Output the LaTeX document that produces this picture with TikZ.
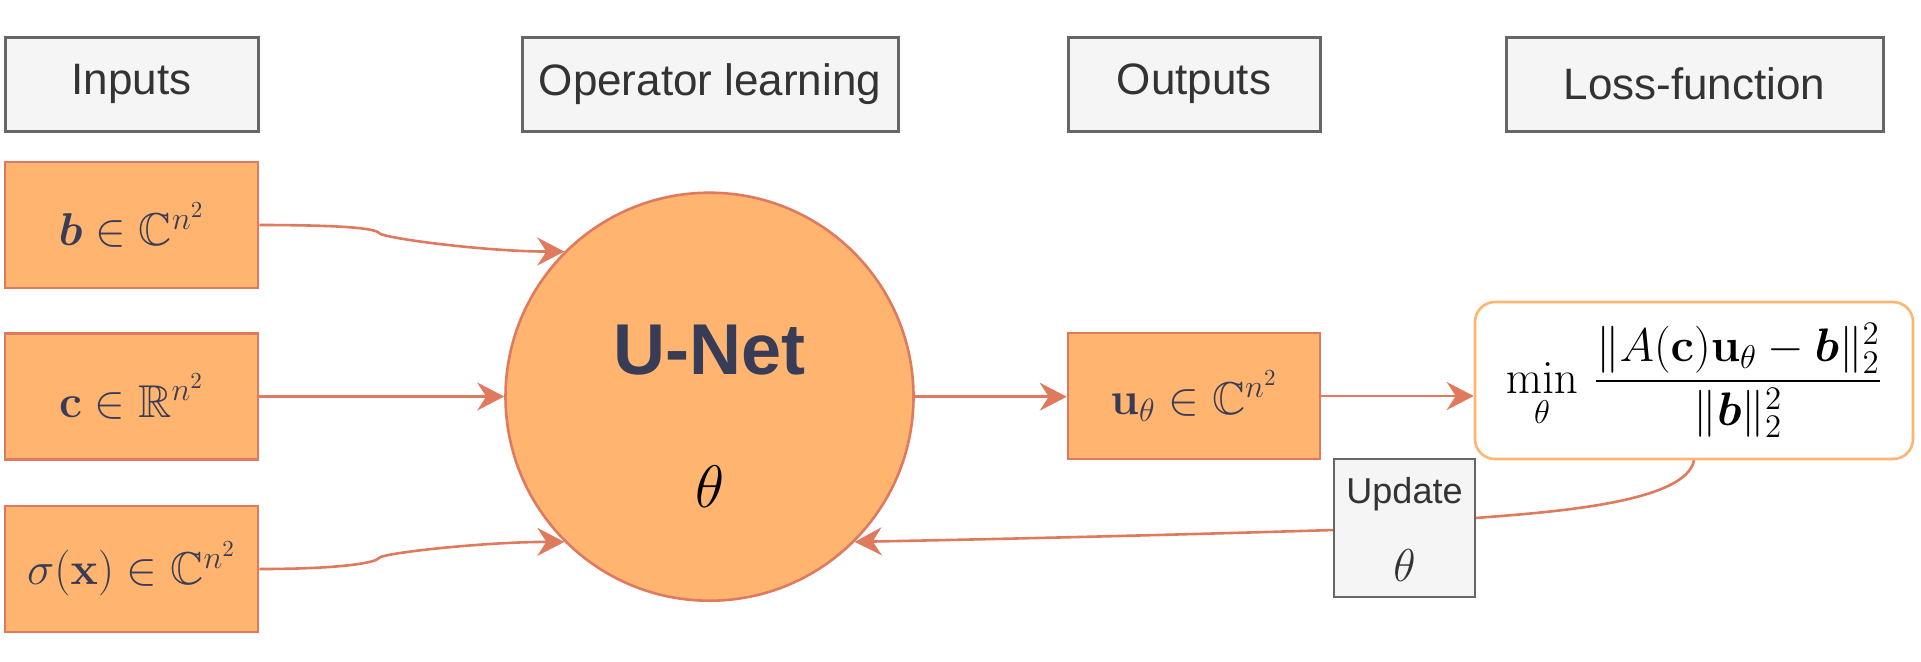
\RequirePackage{fix-cm}
\documentclass[tikz,border=0pt]{standalone}
\usepackage{amsmath,amssymb}
\usepackage{bm}
\usepackage[no-math]{fontspec}
\setmainfont{Liberation Sans}
\usetikzlibrary{arrows.meta}
\definecolor{orfill}{HTML}{FFB570}
\definecolor{orline}{HTML}{E07A5F}
\definecolor{navy}{HTML}{393C56}
\definecolor{hdrfill}{HTML}{F5F5F5}
\definecolor{hdrline}{HTML}{666666}
\definecolor{hdrtext}{HTML}{333333}
\begin{document}
\begin{tikzpicture}[x=0.5pt,y=-0.5pt,
 hdr/.style={draw=hdrline, fill=hdrfill, line width=1.5pt, text=hdrtext, minimum height=47pt, inner sep=0pt, font=\fontsize{22}{26}\selectfont},
 inbox/.style={draw=orline, fill=orfill, line width=1.3pt, text=navy, minimum width=126.5pt, minimum height=63pt, inner sep=0pt, font=\fontsize{23}{28}\selectfont},
 conn/.style={draw=orline, line width=1.3pt, -{Stealth[length=13.5pt,width=14pt,inset=4.5pt]}},
 plain/.style={inner sep=0pt},
]
\useasboundingbox (0,0) rectangle (1921,661);
% headers
\node[hdr, minimum width=126.5pt] (hin) at (131.5,84) {Inputs};
\node[hdr, minimum width=188pt] (hop) at (710,84) {Operator learning};
\node[hdr, minimum width=126pt] (hout) at (1194,84) {Outputs};
\node[hdr, minimum width=188.5pt] (hloss) at (1694.5,84) {Loss-function};
% inputs
\node[inbox] (b) at (131.5,225) {$\bm{b}\in\mathbb{C}^{n^2}$};
\node[inbox] (c) at (131.5,396.5) {$\mathbf{c}\in\mathbb{R}^{n^2}$};
\node[inbox] (s) at (131.5,569) {$\sigma(\mathbf{x})\in\mathbb{C}^{n^2}$};
% U-Net
\node[circle, draw=orline, fill=orfill, line width=1.3pt, minimum size=204pt, inner sep=0pt] (unet) at (709.5,396.7) {};
\node[plain, text=navy, font=\fontsize{36}{40}\selectfont\bfseries] (unettxt) at (709.5,350) {U-Net};
\node[plain, font=\fontsize{30}{34}\selectfont] (unettheta) at (709.5,487) {$\theta$};
% output
\node[inbox, minimum width=126pt] (u) at (1194,396) {$\mathbf{u}_\theta\in\mathbb{C}^{n^2}$};
% loss
\node[draw=orfill, fill=white, rounded corners=10pt, line width=1.3pt, minimum width=219pt, minimum height=78.5pt, inner sep=0pt, font=\fontsize{23.5}{28}\selectfont] (loss) at (1694,380.5) {$\displaystyle\min_\theta\,\frac{\|A(\mathbf{c})\mathbf{u}_\theta-\bm{b}\|_2^2}{\|\bm{b}\|_2^2}$};
% connectors
\draw[conn] (b.east) .. controls +(80,0) and +(-4,-5) .. (379,233) .. controls +(3,5) and +(-80,0) .. (unet.135);
\draw[conn] (c.east) -- (c.east -| unet.west);
\draw[conn] (s.east) .. controls +(80,0) and +(-4,5) .. (379,558) .. controls +(3,-5) and +(-80,0) .. (unet.225);
\draw[conn] (unet.east) -- (unet.east -| u.west);
\draw[conn] (u.east) -- (u.east -| loss.west);
\draw[conn] (loss.south) .. controls +(-8,42) and +(80,-6) .. (1475,518) -- (1334,530) .. controls (1100,537) and (950,540) .. (unet.-45);
% update box
\node[draw=hdrline, fill=hdrfill, line width=1.3pt, minimum width=70.5pt, minimum height=69pt, inner sep=0pt] (upd) at (1404.5,528) {};
\node[plain, text=hdrtext, font=\fontsize{18}{22}\selectfont] (updtxt) at (1404.5,494) {Update};
\node[plain, text=hdrtext, font=\fontsize{23}{27}\selectfont] (updtheta) at (1404.5,566) {$\theta$};
\end{tikzpicture}
\end{document}
